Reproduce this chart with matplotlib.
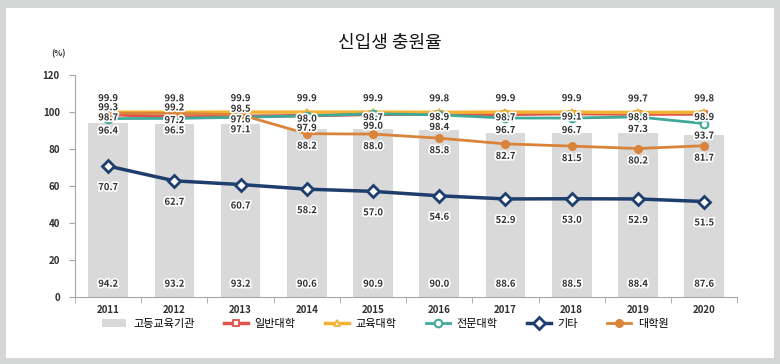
import matplotlib
matplotlib.use("Agg")
import matplotlib.pyplot as plt
import matplotlib.patheffects as pe
from matplotlib.patches import Rectangle
import numpy as np

plt.rcParams['font.family'] = ['Noto Sans CJK KR', 'DejaVu Sans']

years = ['2011', '2012', '2013', '2014', '2015', '2016', '2017', '2018', '2019', '2020']
higher_edu = [94.2, 93.2, 93.2, 90.6, 90.9, 90.0, 88.6, 88.5, 88.4, 87.6]
general_univ = [98.7, 97.2, 97.6, 98.0, 98.7, 98.9, 98.7, 99.1, 98.8, 98.9]
edu_univ = [99.9, 99.8, 99.9, 99.9, 99.9, 99.8, 99.9, 99.9, 99.7, 99.8]
college = [96.4, 96.5, 97.1, 97.9, 99.0, 98.4, 96.7, 96.7, 97.3, 93.7]
others = [70.7, 62.7, 60.7, 58.2, 57.0, 54.6, 52.9, 53.0, 52.9, 51.5]
grad_school = [99.3, 99.2, 98.5, 88.2, 88.0, 85.8, 82.7, 81.5, 80.2, 81.7]

# label offsets (pixels) for the graduate school series
grad_dy = [6, 6, 6, -12, -12, -12, -12, -12, -12, -12]

fig = plt.figure(figsize=(7.8, 3.64), dpi=100)
fig.patch.set_facecolor('#d4d6d6')
fig.add_artist(Rectangle((6/780, 6/364), 768/780, 350/364, transform=fig.transFigure,
                         facecolor='white', edgecolor='none', zorder=-1))
ax = fig.add_axes([0.0962, 0.185, 0.849, 0.609])
ax.set_facecolor('white')

x = np.arange(len(years))
bars = ax.bar(x, higher_edu, width=0.6, color='#d9d9d9', zorder=1, label='고등교육기관')

l1, = ax.plot(x, general_univ, color='#e0534c', lw=2.5, marker='s', ms=5, mfc='white', mec='#e0534c', mew=1.3, zorder=3, label='일반대학')
l2, = ax.plot(x, edu_univ, color='#f2b233', lw=2.5, marker='^', ms=5, mfc='white', mec='#f2b233', mew=1.3, zorder=3, label='교육대학')
l3, = ax.plot(x, college, color='#3fa99a', lw=2, marker='o', ms=5.5, mfc='white', mec='#3fa99a', mew=1.5, zorder=3, label='전문대학')
l4, = ax.plot(x, others, color='#1e3f6e', lw=2.5, marker='D', ms=6.5, mfc='white', mec='#1e3f6e', mew=2, zorder=3, label='기타')
l5, = ax.plot(x, grad_school, color='#d9843a', lw=2, marker='o', ms=5.5, mfc='#d9843a', mec='#d9843a', zorder=3, label='대학원')

halo = [pe.withStroke(linewidth=2.5, foreground='white')]
lab = dict(ha='center', va='center', fontsize=6.8, fontweight='bold', color='#303030',
           textcoords='offset pixels', zorder=5, path_effects=halo)

for i in range(len(years)):
    ax.annotate(f'{higher_edu[i]:.1f}', (x[i], 7), xytext=(0, 0), **lab)
    ax.annotate(f'{edu_univ[i]:.1f}', (x[i], edu_univ[i]), xytext=(0, 14), **lab)
    ax.annotate(f'{general_univ[i]:.1f}', (x[i], general_univ[i]), xytext=(0, -3), **lab)
    ax.annotate(f'{college[i]:.1f}', (x[i], college[i]), xytext=(0, -12), **lab)
    ax.annotate(f'{grad_school[i]:.1f}', (x[i], grad_school[i]), xytext=(0, grad_dy[i]), **lab)
    ax.annotate(f'{others[i]:.1f}', (x[i], others[i]), xytext=(0, -21), **lab)

ax.set_xlim(-0.5, len(years) - 0.5)
ax.set_ylim(0, 120)
ax.set_yticks(range(0, 121, 20))
ax.set_xticks(x)
ax.set_xticklabels(years)
ax.set_xticks(np.arange(-0.5, len(years), 1), minor=True)
ax.tick_params(axis='x', which='major', length=0, pad=6, labelsize=7, labelcolor='#303030')
ax.tick_params(axis='x', which='minor', length=4, color='#a6a6a6')
ax.tick_params(axis='y', length=4, color='#a6a6a6', labelsize=7, labelcolor='#303030', pad=7)
for t in ax.get_xticklabels() + ax.get_yticklabels():
    t.set_fontweight('bold')
for s in ['top', 'right']:
    ax.spines[s].set_visible(False)
for s in ['left', 'bottom']:
    ax.spines[s].set_color('#a6a6a6')

fig.text(0.5, 0.882, '신입생 충원율', ha='center', va='center', fontsize=13, fontweight='medium', color='#111111')
fig.text(0.075, 0.852, '(%)', ha='center', va='center', fontsize=6, fontweight='bold', color='#303030')

fig.legend([bars, l1, l2, l3, l4, l5], ['고등교육기관', '일반대학', '교육대학', '전문대학', '기타', '대학원'],
           loc='center left', bbox_to_anchor=(0.118, 0.11), ncol=6, frameon=False,
           fontsize=8, columnspacing=2.6, handlelength=2.2, handletextpad=0.6)

fig.savefig('out.png', dpi=100, facecolor=fig.get_facecolor())
